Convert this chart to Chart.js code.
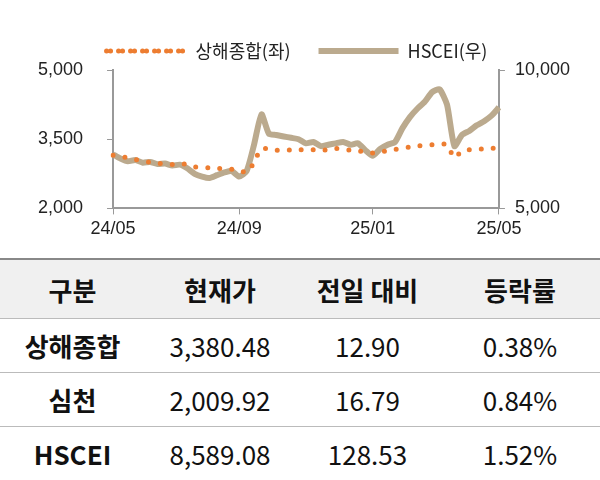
<!DOCTYPE html>
<html><head><meta charset="utf-8">
<script src="https://cdn.jsdelivr.net/npm/chart.js@4"></script>
<style>
body{margin:0;width:600px;height:480px;background:#fff;font-family:"Noto Sans CJK KR","Noto Sans",sans-serif;overflow:hidden}
#wrap{width:600px;height:258px;position:relative}
table{border-collapse:collapse;width:600px;font-size:26px;color:#111}
td,th{text-align:center;padding:0;border-bottom:1px solid #bbb}
th{background:#f0f0f0;height:58px;font-weight:bold;border-top:2px solid #888}
td{height:53px}
td:first-child{font-weight:bold}
</style></head><body>
<div id="wrap"><canvas id="c"></canvas></div>
<table>
<tr><th style="width:145px">구분</th><th style="width:150px">현재가</th><th style="width:145px">전일 대비</th><th>등락률</th></tr>
<tr><td>상해종합</td><td>3,380.48</td><td>12.90</td><td>0.38%</td></tr>
<tr><td>심천</td><td>2,009.92</td><td>16.79</td><td>0.84%</td></tr>
<tr><td>HSCEI</td><td>8,589.08</td><td>128.53</td><td>1.52%</td></tr>
</table>
<script>
// weekly, 2024-05 .. 2025-05
const labels = [];
for (let i = 0; i < 53; i++) labels.push(String(i));
const tickLabels = {0: '24/05', 17: '24/09', 35: '25/01', 52: '25/05'};

const shanghai = [3150,3120,3100,3060,3030,3000,2980,2960,2950,2970,2950,2900,2890,2880,2870,2860,2850,
  2830,2780,3000,3300,3280,3260,3250,3270,3280,3260,3270,3250,3280,3300,3290,3260,3250,3220,
  3200,3230,3250,3280,3300,3330,3350,3370,3380,3390,3380,3100,3250,3270,3280,3290,3300,3310];
const hscei = [6950,6800,6700,6750,6650,6680,6600,6620,6550,6580,6450,6250,6150,6100,6200,6300,6350,
  6150,6350,7300,8400,7700,7650,7600,7550,7500,7350,7400,7250,7300,7350,7400,7300,7350,7100,
  6900,7150,7300,7400,7900,8300,8600,8850,9200,9300,8750,7250,7650,7800,8000,8150,8350,8650];

new Chart(document.getElementById('c'), {
  type: 'line',
  data: {
    labels: labels,
    datasets: [{
      label: '상해종합(좌)',
      data: shanghai,
      yAxisID: 'y',
      borderColor: '#ED7D31',
      borderWidth: 5,
      borderDash: [0, 12],
      borderCapStyle: 'round',
      pointRadius: 0,
      tension: 0.3
    }, {
      label: 'HSCEI(우)',
      data: hscei,
      yAxisID: 'y2',
      borderColor: '#BBAA8E',
      borderWidth: 6,
      pointRadius: 0,
      tension: 0.2
    }]
  },
  options: {
    responsive: true,
    maintainAspectRatio: false,
    animation: false,
    layout: {padding: {left: 14, right: 20, top: 14, bottom: 14}},
    plugins: {
      legend: {
        labels: {color: '#222', font: {size: 18, family: '"Noto Sans CJK KR"'}, boxWidth: 80, boxHeight: 0, padding: 28}
      },
      tooltip: {enabled: false}
    },
    scales: {
      x: {
        ticks: {
          autoSkip: false, maxRotation: 0, color: '#222', font: {size: 18}, padding: 4,
          callback: (v, i) => tickLabels[i] || ''
        },
        grid: {display: true, drawOnChartArea: false, tickLength: 6, color: ctx => tickLabels[ctx.index] ? '#999' : 'rgba(0,0,0,0)'},
        border: {color: '#999', width: 2}
      },
      y: {
        min: 2000, max: 5000,
        ticks: {stepSize: 1500, color: '#222', font: {size: 18}, padding: 24, callback: v => v.toLocaleString('en-US')},
        grid: {drawOnChartArea: false, tickLength: 6, color: '#999'},
        border: {color: '#999', width: 2}
      },
      y2: {
        position: 'right',
        min: 5000, max: 10000,
        ticks: {stepSize: 5000, color: '#222', font: {size: 18}, padding: 10, callback: v => v.toLocaleString('en-US')},
        grid: {drawOnChartArea: false, tickLength: 6, color: '#999'},
        border: {color: '#999', width: 2}
      }
    }
  }
});
</script>
</body></html>
